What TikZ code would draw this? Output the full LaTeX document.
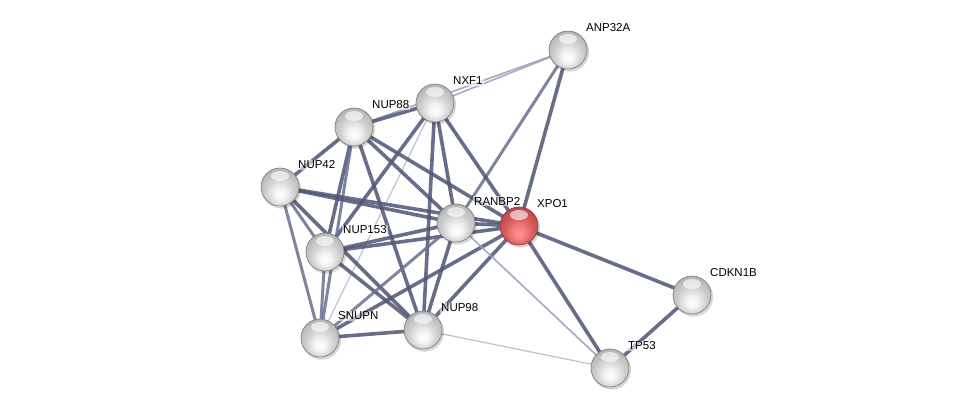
\documentclass[tikz,border=0pt]{standalone}
\usepackage{fontspec}
\setmainfont{Liberation Sans}
\pgfdeclarelayer{edges}
\pgfsetlayers{edges,main}
\pgfdeclareradialshading{grayball}{\pgfpoint{0bp}{-11bp}}{color(0bp)=(white); color(8bp)=(black!5); color(19bp)=(black!19); color(28bp)=(black!28); color(33bp)=(black!34); color(37bp)=(black!48); color(50bp)=(black!48)}
\pgfdeclareradialshading{redball}{\pgfpoint{0bp}{-11bp}}{color(0bp)=(red!40!white); color(8bp)=(red!48!white!96!black); color(19bp)=(red!58!white!84!black); color(28bp)=(red!60!white!74!black); color(33bp)=(red!58!white!67!black); color(37bp)=(red!55!white!52!black); color(50bp)=(red!55!white!52!black)}
\tikzset{
  ballnode/.style={circle, minimum size=38pt, inner sep=0pt, draw=black!50, line width=0.7pt, shade, shading=grayball},
  rednode/.style={ballnode, draw=red!40!black!75, shading=redball},
  lbl/.style={anchor=west, inner sep=1pt, fill=white, fill opacity=0.55, text opacity=1, font=\fontsize{11.5}{13}\selectfont},
  strong/.style={line width=3.6pt, draw={rgb,255:red,78;green,85;blue,118}, draw opacity=0.85},
  medium/.style={line width=3.0pt, draw={rgb,255:red,105;green,111;blue,143}, draw opacity=0.85},
  light/.style={line width=1.6pt, draw={rgb,255:red,155;green,160;blue,186}, draw opacity=0.9},
  vlight/.style={line width=1.2pt, draw={rgb,255:red,182;green,186;blue,205}, draw opacity=0.9},
}
\newcommand\stball[5]{%
  \fill[black,opacity=0.16] (#2+1.5,#3+2) circle (19.6pt);
  \node[#4] (#1) at (#2,#3) {};
  \fill[white,opacity=0.6] (#2,#3-11) ellipse (9pt and 5pt);
  \node[lbl] (#1-l) at (#2+17,#3-22) {#5};
}
\begin{document}
\begin{tikzpicture}[x=1pt,y=-1pt]
\useasboundingbox (0,0) rectangle (976,413);
\stball{ANP32A}{568}{50}{ballnode}{ANP32A}
\stball{NXF1}{435}{103}{ballnode}{NXF1}
\stball{NUP88}{354}{127}{ballnode}{NUP88}
\stball{NUP42}{280}{187}{ballnode}{NUP42}
\stball{RANBP2}{456}{223}{ballnode}{RANBP2}
\stball{XPO1}{519}{226}{rednode}{XPO1}
\stball{NUP153}{325}{252}{ballnode}{NUP153}
\stball{SNUPN}{320}{338}{ballnode}{SNUPN}
\stball{NUP98}{423}{330}{ballnode}{NUP98}
\stball{CDKN1B}{692}{295}{ballnode}{CDKN1B}
\stball{TP53}{610}{368}{ballnode}{TP53}
\begin{pgfonlayer}{edges}
\foreach \a/\b/\s in {
  ANP32A/NXF1/light, ANP32A/NUP88/light, ANP32A/RANBP2/medium, ANP32A/XPO1/strong,
  NXF1/NUP88/strong, NXF1/NUP153/strong, NXF1/SNUPN/vlight, NXF1/NUP98/strong,
  NXF1/RANBP2/strong, NXF1/XPO1/strong,
  NUP88/NUP42/strong, NUP88/NUP153/strong, NUP88/SNUPN/medium, NUP88/NUP98/strong,
  NUP88/RANBP2/strong, NUP88/XPO1/strong,
  NUP42/NUP153/medium, NUP42/SNUPN/medium, NUP42/NUP98/strong, NUP42/RANBP2/strong,
  NUP42/XPO1/strong,
  NUP153/SNUPN/medium, NUP153/NUP98/strong, NUP153/RANBP2/strong, NUP153/XPO1/strong,
  SNUPN/NUP98/strong, SNUPN/RANBP2/medium, SNUPN/XPO1/strong,
  NUP98/RANBP2/strong, NUP98/XPO1/strong, NUP98/TP53/vlight,
  RANBP2/XPO1/strong, RANBP2/TP53/light,
  XPO1/TP53/strong, XPO1/CDKN1B/strong, CDKN1B/TP53/strong}
  { \draw[\s] (\a.center) -- (\b.center); }
\end{pgfonlayer}
\end{tikzpicture}
\end{document}
